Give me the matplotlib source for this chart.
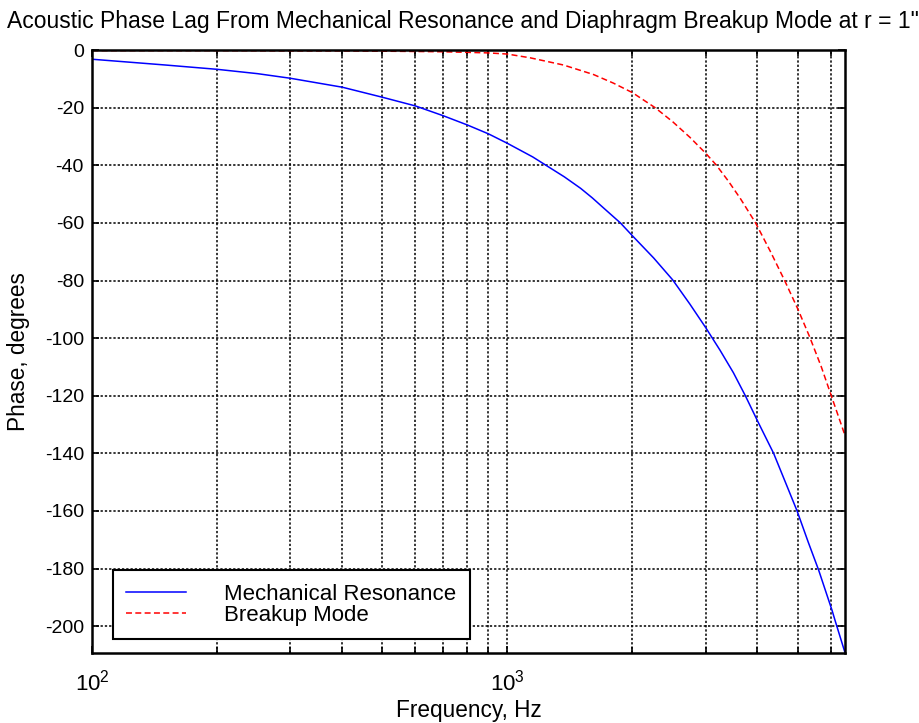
import numpy as np
import matplotlib
matplotlib.use("Agg")
import matplotlib.pyplot as plt
from matplotlib.ticker import LogLocator, NullFormatter, FixedLocator

plt.rcParams['font.family'] = ['Liberation Sans', 'DejaVu Sans']
plt.rcParams['mathtext.fontset'] = 'custom'
plt.rcParams['mathtext.rm'] = 'Liberation Sans'
plt.rcParams['axes.unicode_minus'] = False

# mechanical resonance phase
f_mech = [100, 125, 150, 200, 250, 300, 400, 500, 600, 700, 800, 900, 1000,
          1150, 1244, 1370, 1500, 1600, 1700, 1870, 2000, 2250, 2500, 2750,
          3000, 3250, 3500, 3740, 4025, 4375, 4700, 4983, 5300, 5615, 6049,
          6160, 6500]
ph_mech = [-3.2, -4.3, -5.2, -6.7, -8.2, -9.8, -12.9, -16.4, -19.4, -22.8,
           -26.0, -29.1, -32.4, -37.1, -40.2, -44.0, -48.0, -51.3, -54.7,
           -60.0, -64.5, -72.2, -79.8, -88.2, -96.3, -104.2, -112.0, -120.0,
           -129.5, -140.0, -151.0, -160.0, -170.8, -180.5, -194.5, -198.3,
           -209.2]

# diaphragm breakup mode phase
f_brk = [100, 200, 300, 400, 500, 600, 700, 800, 900, 1000, 1134, 1364,
         1611, 1800, 2000, 2267, 2500, 2750, 3000, 3178, 3400, 3640, 3958,
         4300, 4650, 5000, 5340, 5700, 6000, 6500]
ph_brk = [-0.2, -0.2, -0.3, -0.3, -0.4, -0.5, -0.6, -0.8, -1.0, -1.4, -2.7,
          -5.2, -8.5, -11.5, -14.8, -20.0, -24.9, -30.3, -35.8, -39.8,
          -45.4, -51.6, -60.0, -70.0, -80.0, -89.8, -99.5, -110.0, -119.3,
          -133.8]

yticks = list(range(-200, 1, 20))

fig = plt.figure(figsize=(9.2, 7.23), dpi=100)
ax = fig.add_axes([0.1003, 0.0972, 0.8182, 0.8336])

ax.plot(f_mech, ph_mech, color=(0, 0, 1), lw=1.1, label='Mechanical Resonance')
ax.plot(f_brk, ph_brk, color=(1, 0, 0), lw=1.1, dashes=(3.9, 2.2), label='Breakup Mode')

ax.set_xscale('log')
ax.set_xlim(100, 6500)
ax.set_ylim(-209.2, 0)
ax.xaxis.set_major_locator(FixedLocator([100, 1000]))
ax.xaxis.set_minor_locator(LogLocator(base=10, subs=np.arange(2, 10)))
ax.xaxis.set_minor_formatter(NullFormatter())
ax.set_xticklabels([r'$\mathdefault{10^{2}}$', r'$\mathdefault{10^{3}}$'])
ax.set_yticks(yticks)

grid_kw = dict(color='black', lw=1.1, linestyle=(0, (1.5, 1.3)))
ax.grid(True, which='major', **grid_kw)
ax.grid(True, which='minor', axis='x', **grid_kw)

for s in ax.spines.values():
    s.set_linewidth(1.8)
ax.tick_params(which='both', direction='in', top=True, right=True, width=1.2)
ax.tick_params(which='major', length=5)
ax.tick_params(which='minor', length=4)
ax.tick_params(axis='y', pad=6, labelsize=14)
ax.tick_params(axis='x', pad=12, labelsize=16)

ax.set_xlabel('Frequency, Hz', fontsize=16.3)
ax.set_ylabel('Phase, degrees', fontsize=16.3)
ax.xaxis.set_label_coords(0.5, -0.077)
ax.yaxis.set_label_coords(-0.083, 0.5)

fig.text(0.503, 0.986, 'Acoustic Phase Lag From Mechanical Resonance and Diaphragm Breakup Mode at r = 1"',
         ha='center', va='top', fontsize=16.5)

leg = ax.legend(loc='lower left', bbox_to_anchor=(0.0271, 0.0227), borderaxespad=0,
                fontsize=16, fancybox=False, framealpha=1, edgecolor='black',
                handlelength=2.7, handletextpad=1.73, borderpad=0.6, labelspacing=0.0)
leg.get_frame().set_linewidth(1.5)

fig.savefig('out.png', dpi=100)
